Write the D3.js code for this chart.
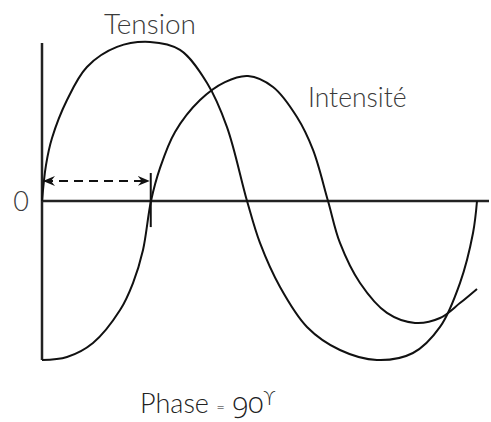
<!DOCTYPE html>
<html>
<head>
<meta charset="utf-8">
<script src="https://cdn.jsdelivr.net/npm/d3@7"></script>
<style>
  body { margin: 0; background: #fff; }
  svg { display: block; }
  .lbl { font-family: Lato, "Open Sans", sans-serif; font-weight: 300; fill: #3a3a3a; }
</style>
</head>
<body>
<svg></svg>
<script>
// phase in degrees, amplitude normalised to 1
var tensionX = [0, 3.3, 8.3, 20.7, 37.2, 62.1, 89.4, 114.2, 136.6, 153.1, 169.7, 180.4, 197, 219.3, 246.6, 277.2, 307, 329.4, 345.9, 356.7, 360];
var tensionY = [0, 0.226, 0.396, 0.635, 0.843, 0.969, 1.0, 0.95, 0.742, 0.465, 0, -0.264, -0.541, -0.792, -0.937, -1.0, -0.956, -0.792, -0.516, -0.201, 0];

var intensX = [0, 20.7, 42.2, 64.6, 75.3, 83.6, 90.2, 97.7, 110.1, 130.8, 151.4, 170.5, 191.2, 211, 224.3, 236.7, 246.6, 263.2, 285.5, 308.7, 329.4, 345.9, 360];
var intensY = [-1.0, -0.981, -0.893, -0.686, -0.516, -0.308, 0, 0.208, 0.434, 0.635, 0.748, 0.786, 0.717, 0.528, 0.321, 0, -0.264, -0.516, -0.704, -0.767, -0.736, -0.642, -0.553];

var phaseShift = 90;
var arrowLevel = 0.126;

var svgWidth = 491, svgHeight = 422;

var svg = d3.select('svg')
    .attr('width', svgWidth)
    .attr('height', svgHeight);

var xScale = d3.scaleLinear().domain([0, 360]).range([42, 477]),
    yScale = d3.scaleLinear().domain([-1, 1]).range([360, 42]);

var tension = tensionX.map(function (x, i) { return [x, tensionY[i]]; });
var intens = intensX.map(function (x, i) { return [x, intensY[i]]; });

// axes
svg.append('line')
    .attr('x1', xScale(0)).attr('x2', 489)
    .attr('y1', yScale(0)).attr('y2', yScale(0))
    .style('stroke', '#222').style('stroke-width', 2.5);

svg.append('line')
    .attr('x1', xScale(0)).attr('x2', xScale(0))
    .attr('y1', yScale(1) + 1).attr('y2', yScale(-1))
    .style('stroke', '#222').style('stroke-width', 2.5);

svg.append('text')
    .attr('class', 'lbl')
    .attr('x', 21).attr('y', yScale(0) + 10)
    .attr('text-anchor', 'middle')
    .style('font-size', '27px')
    .text('0');

var line = d3.line()
    .x(function (d) { return xScale(d[0]); })
    .y(function (d) { return yScale(d[1]); })
    .curve(d3.curveCatmullRom.alpha(0.5));

svg.append('path')
    .datum(tension)
    .attr('d', line)
    .style('fill', 'none')
    .style('stroke', '#111')
    .style('stroke-width', 2);

svg.append('path')
    .datum(intens)
    .attr('d', line)
    .style('fill', 'none')
    .style('stroke', '#111')
    .style('stroke-width', 2);

// phase arrow
var defs = svg.append('defs');
defs.append('marker')
    .attr('id', 'head')
    .attr('viewBox', '0 0 12 10')
    .attr('refX', 11).attr('refY', 5)
    .attr('markerWidth', 12).attr('markerHeight', 10)
    .attr('markerUnits', 'userSpaceOnUse')
    .attr('orient', 'auto-start-reverse')
    .append('path')
    .attr('d', 'M0,0 L12,5 L0,10 L4,5 Z')
    .style('fill', '#111');

svg.append('line')
    .attr('x1', xScale(0) + 2).attr('x2', xScale(phaseShift) - 2)
    .attr('y1', yScale(arrowLevel)).attr('y2', yScale(arrowLevel))
    .style('stroke', '#111').style('stroke-width', 2)
    .style('stroke-dasharray', '9,6')
    .attr('marker-start', 'url(#head)')
    .attr('marker-end', 'url(#head)');

svg.append('line')
    .attr('x1', xScale(phaseShift)).attr('x2', xScale(phaseShift))
    .attr('y1', yScale(0.176)).attr('y2', yScale(-0.164))
    .style('stroke', '#111').style('stroke-width', 2);

// labels
svg.append('text')
    .attr('class', 'lbl')
    .attr('x', 150).attr('y', 34)
    .attr('text-anchor', 'middle')
    .style('font-size', '28px')
    .text('Tension');

svg.append('text')
    .attr('class', 'lbl')
    .attr('x', 308).attr('y', 107)
    .style('font-size', '26.5px')
    .text('Intensité');

var ph = svg.append('text')
    .attr('class', 'lbl')
    .attr('x', 140).attr('y', 413)
    .style('font-size', '27px')
    .style('fill', '#222');
ph.append('tspan').text('Phase ');
ph.append('tspan').style('font-size', '15px').text('=');
ph.append('tspan')
    .style('font-family', '"Open Sans", Lato, sans-serif')
    .style('font-size', '29px')
    .style('font-feature-settings', '"onum" 1')
    .text(' 90');
ph.append('tspan').attr('dy', -8).style('font-size', '20px').text('\u03D2');
</script>
</body>
</html>
